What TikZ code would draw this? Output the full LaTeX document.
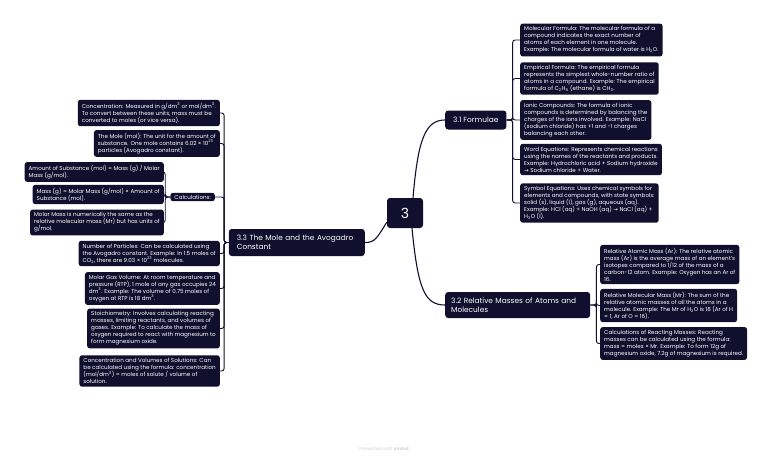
\documentclass[tikz,border=0pt]{standalone}
\usepackage{fontspec}
\setmainfont{Poppins}
\newfontfamily\arrowfont{DejaVu Sans}
\usetikzlibrary{calc}
\definecolor{navy}{HTML}{100F2E}
\newcommand{\arr}{{\arrowfont →}}
\newcommand{\sub}[1]{\textsubscript{#1}}
\newcommand{\sups}[1]{\textsuperscript{#1}}
\begin{document}
\begin{tikzpicture}[x=1pt,y=-1pt,
  leaf/.style={fill=navy, text=white, rounded corners=2.5pt, align=left,
    inner xsep=4pt, inner ysep=3pt, font=\fontsize{5.6}{7}\selectfont},
  topic/.style={fill=navy, text=white, rounded corners=3pt, align=left,
    font=\fontsize{7.4}{9}\selectfont, inner xsep=8pt, inner ysep=3pt},
  rootbox/.style={fill=navy, text=white, rounded corners=3pt,
    minimum width=36pt, minimum height=30pt, font=\fontsize{14}{16}\selectfont},
  link/.style={draw=navy, line width=0.9pt, rounded corners=2.5pt},
  mainlink/.style={draw=navy, line width=1.1pt}]
\useasboundingbox (0,0) rectangle (768,460);

% root and topics
\node[rootbox] (c) at (405,213) {3};
\node[topic, anchor=west, minimum height=19pt] (t1) at (445,120) {3.1 Formulae};
\node[topic, anchor=west, text width=133pt, inner xsep=6pt, minimum height=26pt] (t2) at (445,305) {3.2 Relative Masses of Atoms and\\Molecules};
\node[topic, anchor=east, text width=120pt, minimum height=27pt] (t3) at (365,242.5) {3.3 The Mole and the Avogadro\\Constant};

\draw[mainlink] ([xshift=8pt]c.north) .. controls +(5,-58) and +(-20,0) .. (t1.west);
\draw[mainlink] ([xshift=7pt]c.south) .. controls +(6,62) and +(-20,0) .. (t2.west);
\draw[mainlink] ([yshift=6pt]c.south west) .. controls +(-10,16) and +(10,0) .. (t3.east);

% 3.3 children
\node[leaf, anchor=east] (l1) at (220,113) {Concentration: Measured in g/dm\sups{3} or mol/dm\sups{3}.\\To convert between these units, mass must be\\converted to moles (or vice versa).};
\node[leaf, anchor=east] (l2) at (220,143.5) {The Mole (mol): The unit for the amount of\\substance. One mole contains 6.02 × 10\sups{23}\\particles (Avogadro constant).};
\node[leaf, anchor=east, inner ysep=2pt] (l3) at (215,197) {Calculations:};
\node[leaf, anchor=east] (l4) at (220,253.5) {Number of Particles: Can be calculated using\\the Avogadro constant. Example: In 1.5 moles of\\CO\sub{2}, there are 9.03 × 10\sups{23} molecules.};
\node[leaf, anchor=east] (l5) at (220,288.5) {Molar Gas Volume: At room temperature and\\pressure (RTP), 1 mole of any gas occupies 24\\dm\sups{3}. Example: The volume of 0.75 moles of\\oxygen at RTP is 18 dm\sups{3}.};
\node[leaf, anchor=east] (l6) at (220,328.5) {Stoichiometry: Involves calculating reacting\\masses, limiting reactants, and volumes of\\gases. Example: To calculate the mass of\\oxygen required to react with magnesium to\\form magnesium oxide.};
\node[leaf, anchor=east] (l7) at (220,371) {Concentration and Volumes of Solutions: Can\\be calculated using the formula: concentration\\(mol/dm\sups{3}) = moles of solute / volume of\\solution.};

% Calculations children
\node[leaf, anchor=east] (k1) at (164,172) {Amount of Substance (mol) = Mass (g) / Molar\\Mass (g/mol).};
\node[leaf, anchor=east] (k2) at (164,194.5) {Mass (g) = Molar Mass (g/mol) × Amount of\\Substance (mol).};
\node[leaf, anchor=east] (k3) at (164,222.5) {Molar Mass is numerically the same as the\\relative molecular mass (Mr) but has units of\\g/mol.};

% 3.1 children
\node[leaf, anchor=west] (r1) at (520,40) {Molecular Formula: The molecular formula of a\\compound indicates the exact number of\\atoms of each element in one molecule.\\Example: The molecular formula of water is H\sub{2}O.};
\node[leaf, anchor=west] (r2) at (520,78.5) {Empirical Formula: The empirical formula\\represents the simplest whole-number ratio of\\atoms in a compound. Example: The empirical\\formula of C\sub{2}H\sub{6} (ethane) is CH\sub{3}.};
\node[leaf, anchor=west] (r3) at (520,120) {Ionic Compounds: The formula of ionic\\compounds is determined by balancing the\\charges of the ions involved. Example: NaCl\\(sodium chloride) has +1 and -1 charges\\balancing each other.};
\node[leaf, anchor=west] (r4) at (520,159.5) {Word Equations: Represents chemical reactions\\using the names of the reactants and products.\\Example: Hydrochloric acid + Sodium hydroxide\\\arr{} Sodium chloride + Water.};
\node[leaf, anchor=west] (r5) at (520,203) {Symbol Equations: Uses chemical symbols for\\elements and compounds, with state symbols:\\solid (s), liquid (l), gas (g), aqueous (aq).\\Example: HCl (aq) + NaOH (aq) \arr{} NaCl (aq) +\\H\sub{2}O (l).};

% 3.2 children
\node[leaf, anchor=west] (s1) at (600,264.5) {Relative Atomic Mass (Ar): The relative atomic\\mass (Ar) is the average mass of an element's\\isotopes compared to 1/12 of the mass of a\\carbon-12 atom. Example: Oxygen has an Ar of\\16.};
\node[leaf, anchor=west] (s2) at (600,305.5) {Relative Molecular Mass (Mr): The sum of the\\relative atomic masses of all the atoms in a\\molecule. Example: The Mr of H\sub{2}O is 18 (Ar of H\\= 1, Ar of O = 16).};
\node[leaf, anchor=west] (s3) at (600,343.5) {Calculations of Reacting Masses: Reacting\\masses can be calculated using the formula:\\mass = moles × Mr. Example: To form 12g of\\magnesium oxide, 7.2g of magnesium is required.};

% connectors
\foreach \n in {l1,l2,l3,l4,l5,l6,l7}
  \draw[link] (t3.west) -- ++(-4.5,0) |- (\n.east);
\foreach \n in {k1,k2,k3}
  \draw[link] (l3.west) -- ++(-5,0) |- (\n.east);
\foreach \n in {r1,r2,r3,r4,r5}
  \draw[link] (t1.east) -- ++(6,0) |- (\n.west);
\foreach \n in {s1,s2,s3}
  \draw[link] (t2.east) -- ++(6,0) |- (\n.west);

\node[text=black!18, font=\fontsize{4.5}{5}\selectfont] (wm) at (384,449) {Presented with \textbf{xmind}};
\end{tikzpicture}
\end{document}
